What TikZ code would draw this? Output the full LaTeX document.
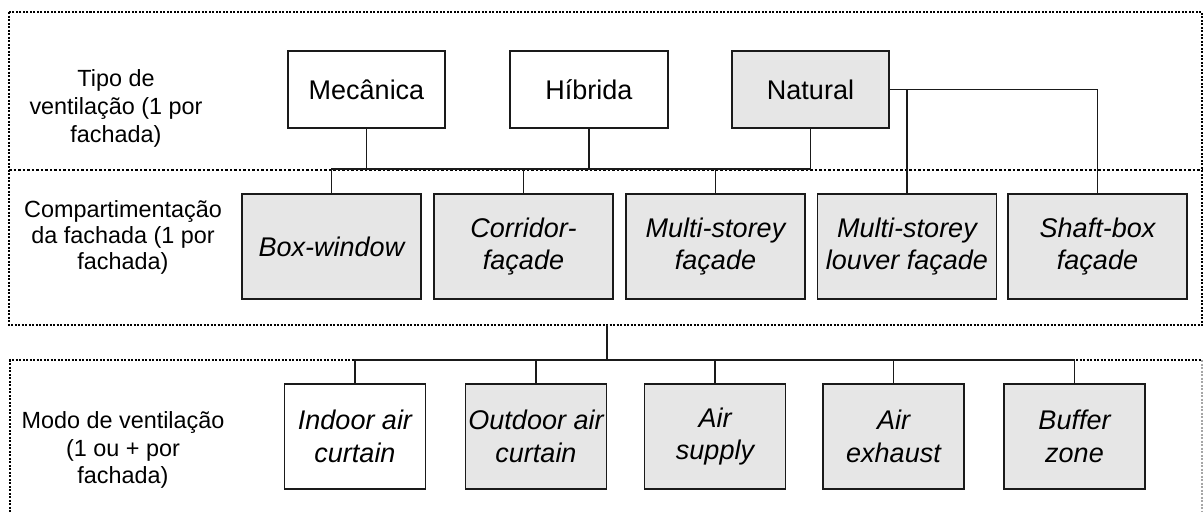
\documentclass[tikz,border=0pt]{standalone}
\usepackage{fontspec}
\setmainfont{Liberation Sans}
\definecolor{boxgray}{HTML}{E6E6E6}
\definecolor{linegray}{HTML}{1A1A1A}
\tikzset{
  boxbase/.style={draw=linegray, line width=1.4pt, rectangle, align=center, inner sep=0pt,
    font=\fontsize{27}{32.4}\selectfont},
  topbox/.style={boxbase, minimum width=157pt, minimum height=77pt},
  midbox/.style={boxbase, minimum width=179pt, minimum height=105pt, font=\fontsize{27}{32.4}\selectfont\itshape},
  botbox/.style={boxbase, minimum width=141pt, minimum height=105pt, font=\fontsize{27}{32.4}\selectfont\itshape},
  grayfill/.style={fill=boxgray},
  whitefill/.style={fill=white},
  conn/.style={draw=linegray, line width=1.4pt},
  framedot/.style={draw=black, line width=1.3pt, dash pattern=on 2pt off 1.5pt},
  divdot/.style={draw=black, line width=1.1pt, dash pattern=on 2.5pt off 2pt},
  lbl/.style={align=center, inner sep=0pt},
}
\begin{document}
\begin{tikzpicture}[x=1pt,y=-1pt]
\useasboundingbox (0,0) rectangle (1203,512);
% frames
\draw[framedot] (9,12) rectangle (1202,325);
\draw[divdot] (9,170) -- (1202,170);
\draw[framedot] (10,512) -- (10,360) -- (1202,360);
\draw[framedot, draw=black!35] (1202,360) -- (1202,512);

% labels
\node[lbl, font=\fontsize{23.4}{28}\selectfont] (ltipo) at (116,108) {Tipo de\\ventilação (1 por\\fachada)};
\node[lbl, font=\fontsize{23.4}{26}\selectfont] (lcomp) at (123,237) {Compartimentação\\da fachada (1 por\\fachada)};
\node[lbl, font=\fontsize{23.4}{27.5}\selectfont] (lmodo) at (123,450) {Modo de ventilação\\(1 ou + por\\fachada)};

% top boxes
\node[topbox, whitefill] (mec) at (366.5,89.5) {Mecânica};
\node[topbox, whitefill, minimum width=158pt] (hib) at (589,89.5) {Híbrida};
\node[topbox, grayfill] (nat) at (810.5,89.5) {Natural};

% middle boxes
\node[midbox, grayfill] (bw) at (331.5,246.5) {Box-window};
\node[midbox, grayfill] (cf) at (523.5,246.5) {Corridor-\\façade};
\node[midbox, grayfill] (msf) at (715.5,246.5) {Multi-storey\\façade};
\node[midbox, grayfill] (mlf) at (907,246.5) {Multi-storey\\louver façade};
\node[midbox, grayfill] (sbf) at (1097.5,246.5) {Shaft-box\\façade};

% bottom boxes
\node[botbox, whitefill] (iac) at (355,436.5) {Indoor air\\curtain};
\node[botbox, grayfill] (oac) at (536,436.5) {Outdoor air\\curtain};
\node[botbox, grayfill] (as) at (715,436.5) {Air\\supply};
\node[botbox, grayfill] (ae) at (893.5,436.5) {Air\\exhaust};
\node[botbox, grayfill] (bz) at (1074.5,436.5) {Buffer\\zone};

% connectors top -> middle
\coordinate (busA) at (0,169);
\draw[conn] (bw.north) -- (bw.north |- busA) -- (nat.south |- busA) -- (nat.south);
\draw[conn] (cf.north) -- (cf.north |- busA);
\draw[conn] (msf.north) -- (msf.north |- busA);
\draw[conn] (mec.south) -- (mec.south |- busA);
\draw[conn] (hib.south) -- (hib.south |- busA);
\draw[conn] (nat.east) -- (sbf.north |- nat.east) -- (sbf.north);
\draw[conn] (mlf.north) -- (mlf.north |- nat.east);

% connectors frame -> bottom
\coordinate (frameA) at (607,325);
\coordinate (busB) at (607,360);
\draw[conn] (frameA) -- (busB);
\draw[conn] (iac.north) -- (iac.north |- busB) -- (bz.north |- busB) -- (bz.north);
\draw[conn] (oac.north) -- (oac.north |- busB);
\draw[conn] (as.north) -- (as.north |- busB);
\draw[conn] (ae.north) -- (ae.north |- busB);
\end{tikzpicture}
\end{document}
